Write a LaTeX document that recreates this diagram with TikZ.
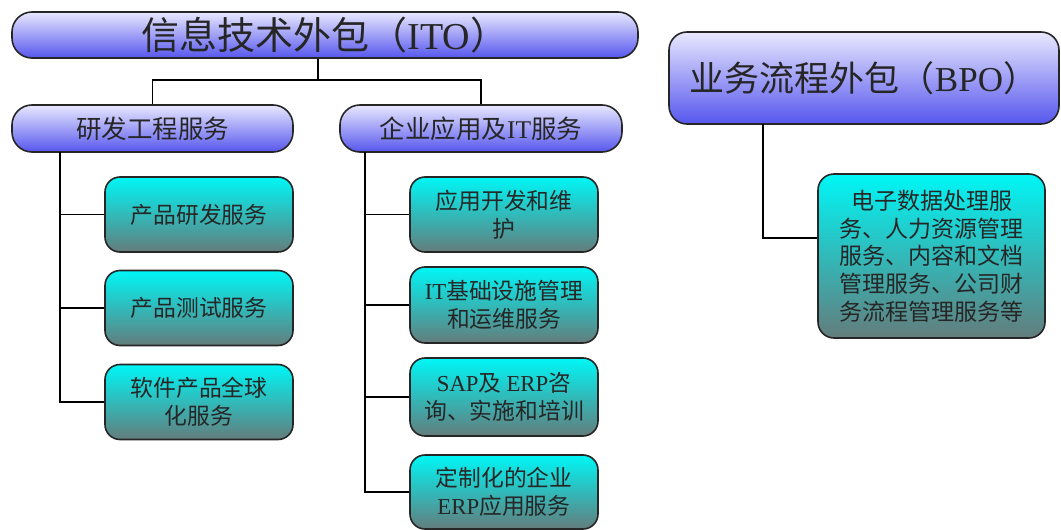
\documentclass[tikz,border=0pt]{standalone}
\usepackage{fontspec}
\setmainfont{Noto Sans CJK SC}
\newfontfamily\lat{Liberation Serif}
\usetikzlibrary{positioning,calc}
\definecolor{topA}{RGB}{232,232,255}
\definecolor{topB}{RGB}{86,86,238}
\definecolor{leafA}{RGB}{0,246,246}
\definecolor{leafB}{RGB}{100,124,124}

\begin{document}
\begin{tikzpicture}[x=1pt,y=-1pt,line width=1.6pt]
            \tikzstyle{topbox}=[draw=black!85, rounded corners=20pt,
            top color=topA, bottom color=topB, inner sep=0pt,
            text=black!85]
            \tikzstyle{leafbox}=[draw=black!85, rounded corners=15pt,
            top color=leafA, bottom color=leafB, inner sep=0pt,
            align=center, text=black!85,
            font=\fontsize{22.8}{28}\selectfont]
            \useasboundingbox (0,0) rectangle (1061,530);
            %        ITO                 BPO
            %   RD         EA             |
            %   |-R1       |-E1           |-B1
            %   |-R2       |-E2
            %   |-R3       |-E3
            %              |-E4
            \node[topbox, minimum width=626pt, minimum height=46pt,
                  font=\fontsize{38}{40}\selectfont] (ITO) at (325,35)
                  {信息技术外包（{\lat ITO}）};
            \node[topbox, minimum width=281pt, minimum height=47pt,
                  font=\fontsize{25.5}{28}\selectfont] (RD) at (152.5,128.5)
                  {研发工程服务};
            \node[topbox, minimum width=282pt, minimum height=47pt,
                  font=\fontsize{25.5}{28}\selectfont] (EA) at (481,128.5)
                  {企业应用及{\lat IT}服务};
            \node[topbox, rounded corners=18pt, minimum width=390pt,
                  minimum height=92pt,
                  font=\fontsize{35}{38}\selectfont] (BPO) at (864,78)
                  {业务流程外包（{\lat BPO}）};
            \node[leafbox, minimum width=188pt, minimum height=75pt] (R1) at (199,214.5) {产品研发服务};
            \node[leafbox, minimum width=188pt, minimum height=75pt] (R2) at (199,308) {产品测试服务};
            \node[leafbox, minimum width=188pt, minimum height=75pt] (R3) at (199,402) {软件产品全球\\化服务};
            \node[leafbox, minimum width=188pt, minimum height=75pt] (E1) at (504,214.5) {应用开发和维\\护};
            \node[leafbox, minimum width=188pt, minimum height=76pt] (E2) at (504,305) {{\lat IT}基础设施管理\\和运维服务};
            \node[leafbox, minimum width=188pt, minimum height=78pt] (E3) at (504,397) {{\lat SAP}及 {\lat ERP}咨\\询、实施和培训};
            \node[leafbox, minimum width=188pt, minimum height=74pt] (E4) at (504,492) {定制化的企业\\{\lat ERP}应用服务};
            \node[leafbox, rounded corners=16pt, minimum width=227pt,
                  minimum height=164pt,
                  font=\fontsize{23}{27.7}\selectfont] (B1) at (931.5,256)
                  {电子数据处理服\\务、人力资源管理\\服务、内容和文档\\管理服务、公司财\\务流程管理服务等};
            \coordinate (j) at (318,80);
            \coordinate (ls) at (60,152);
            \coordinate (rs) at (365,152);
            \coordinate (bs) at (763,124);
            \draw (ITO.south -| j) -- (j);
            \draw (RD.north) |- (j) -| (EA.north);
            \draw (ls) |- (R1.west)
                  (ls) |- (R2.west)
                  (ls) |- (R3.west);
            \draw (rs) |- (E1.west)
                  (rs) |- (E2.west)
                  (rs) |- (E3.west)
                  (rs) |- (E4.west);
            \draw (bs) |- ([yshift=18pt]B1.west);
\end{tikzpicture}
\end{document}
